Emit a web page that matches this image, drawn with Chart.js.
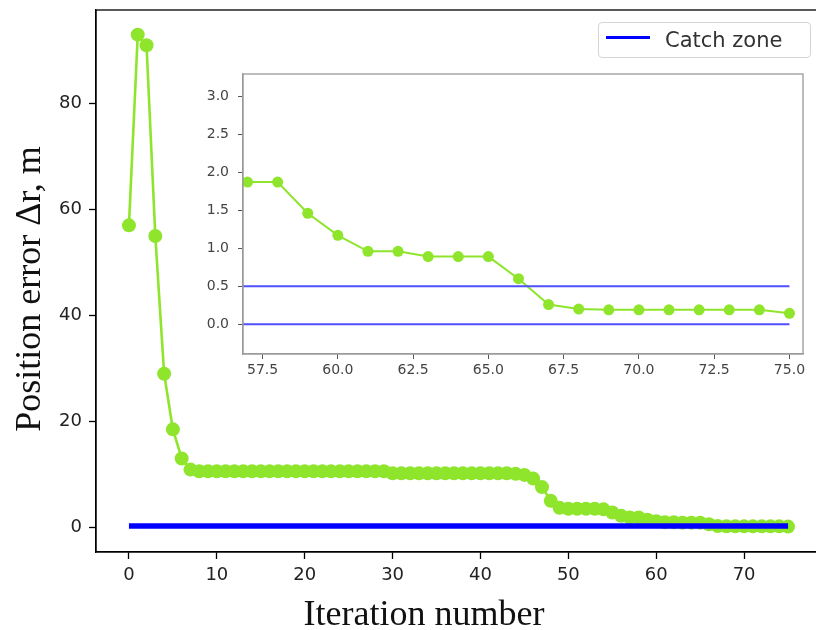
<!DOCTYPE html>
<html>
<head>
<meta charset="utf-8">
<script src="https://cdn.jsdelivr.net/npm/chart.js@4.4.1/dist/chart.umd.min.js"></script>
<style>
  html, body { margin: 0; padding: 0; background: #fff; }
  #wrap { position: relative; width: 816px; height: 630px; overflow: hidden; }
  #mainChart { position: absolute; left: 0; top: 0; }
  #insetChart { position: absolute; left: 180px; top: 64px; }
  #legend {
    position: absolute; left: 598px; top: 22px; width: 211px; height: 34px;
    border: 1px solid #d4d4d4; border-radius: 4px; background: rgba(255,255,255,0.85);
    font-family: 'DejaVu Sans', sans-serif;
  }
  #legend .swatch { position: absolute; left: 7px; top: 13px; width: 44px; height: 3px; background: #0000ff; }
  #legend .label { position: absolute; left: 66px; top: 5px; font-size: 21px; color: #333; line-height: 24px; }
</style>
</head>
<body>
<div id="wrap">
  <canvas id="mainChart" width="840" height="630"></canvas>
  <canvas id="insetChart" width="640" height="326"></canvas>
  <div id="legend"><div class="swatch"></div><div class="label">Catch zone</div></div>
</div>
<script>
// iteration numbers and position error (m)
const iterations = [0, 1, 2, 3, 4, 5, 6, 7, 8, 9, 10, 11, 12, 13, 14, 15, 16, 17, 18, 19,
  20, 21, 22, 23, 24, 25, 26, 27, 28, 29, 30, 31, 32, 33, 34, 35, 36, 37, 38, 39,
  40, 41, 42, 43, 44, 45, 46, 47, 48, 49, 50, 51, 52, 53, 54, 55, 56, 57, 58, 59,
  60, 61, 62, 63, 64, 65, 66, 67, 68, 69, 70, 71, 72, 73, 74, 75];
const positionError = [57, 93, 91, 55, 29, 18.5, 13, 10.9, 10.6, 10.6,
  10.6, 10.6, 10.6, 10.6, 10.6, 10.6, 10.6, 10.6, 10.6, 10.6,
  10.6, 10.6, 10.6, 10.6, 10.6, 10.6, 10.6, 10.6, 10.6, 10.6,
  10.2, 10.2, 10.2, 10.2, 10.2, 10.2, 10.2, 10.2, 10.2, 10.2,
  10.2, 10.2, 10.2, 10.2, 10.1, 9.9, 9.2, 7.6, 5.0, 3.7,
  3.5, 3.5, 3.5, 3.5, 3.4, 2.8, 2.2, 1.87, 1.87, 1.46,
  1.17, 0.96, 0.96, 0.89, 0.89, 0.89, 0.60, 0.26, 0.20, 0.19,
  0.19, 0.19, 0.19, 0.19, 0.19, 0.145];

// catch zone boundaries
const catchZoneLevels = [0, 0.5];
const catchZoneSpan = [0, 75];

// tick labels
const mainXTicks = [0, 10, 20, 30, 40, 50, 60, 70];
const mainYTicks = [0, 20, 40, 60, 80];
const insetFrom = 57;
const insetXTicks = [57.5, 60, 62.5, 65, 67.5, 70, 72.5, 75];
const insetYTicks = [0, 0.5, 1, 1.5, 2, 2.5, 3];

const green = '#8ee52c';

function toPoints(xs, ys) {
    return xs.map((x, i) => ({ x: x, y: ys[i] }));
}

function zoneLines(color, width) {
    return catchZoneLevels.map(level => ({
        label: 'Catch zone',
        data: catchZoneSpan.map(x => ({ x: x, y: level })),
        borderColor: color,
        borderWidth: width,
        pointRadius: 0
    }));
}

// box around the plot area
const frameBox = {
    id: 'frameBox',
    beforeDraw(chart, args, opts) {
        if (!opts.fill) return;
        const a = chart.chartArea;
        chart.ctx.save();
        chart.ctx.fillStyle = opts.fill;
        chart.ctx.fillRect(a.left, a.top, a.right - a.left, a.bottom - a.top);
        chart.ctx.restore();
    },
    afterDraw(chart, args, opts) {
        const a = chart.chartArea;
        const ctx = chart.ctx;
        ctx.save();
        ctx.strokeStyle = opts.color;
        ctx.lineWidth = opts.width;
        ctx.strokeRect(a.left, a.top, a.right - a.left, a.bottom - a.top);
        ctx.restore();
    }
};

// axis titles, placed as in the original figure
const axisTitles = {
    id: 'axisTitles',
    afterDraw(chart) {
        const ctx = chart.ctx;
        ctx.save();
        ctx.fillStyle = '#111';
        ctx.textAlign = 'center';
        ctx.textBaseline = 'alphabetic';
        ctx.font = '36px "Liberation Serif"';
        ctx.fillText('Iteration number', 424, 625);
        ctx.translate(40, 289);
        ctx.rotate(-Math.PI / 2);
        ctx.fillText('Position error \u0394r, m', 0, 0);
        ctx.restore();
    }
};

function fixedTicks(values) {
    return scale => { scale.ticks = values.map(v => ({ value: v })); };
}

new Chart(document.getElementById('mainChart'), {
    type: 'line',
    data: {
        datasets: [
            ...zoneLines('#0000ff', 3),
            {
                label: 'Position error',
                data: toPoints(iterations, positionError),
                borderColor: green,
                backgroundColor: green,
                borderWidth: 2.6,
                pointRadius: 7,
                pointBorderWidth: 0
            }
        ]
    },
    options: {
        responsive: false,
        animation: false,
        layout: { padding: { top: 10, right: 19, left: 0, bottom: 0 } },
        plugins: {
            legend: { display: false },
            tooltip: { enabled: false },
            frameBox: { color: '#000', width: 1.3 }
        },
        scales: {
            x: {
                type: 'linear',
                min: -3.75,
                max: 78.75,
                afterBuildTicks: fixedTicks(mainXTicks),
                afterFit: s => { s.height = 78; s.paddingLeft = 0; s.paddingRight = 0; },
                grid: { drawOnChartArea: false, tickLength: 7, tickColor: '#000', tickWidth: 1.3 },
                border: { color: '#000', width: 1.3 },
                ticks: { color: '#222', font: { family: 'DejaVu Sans', size: 18 }, padding: 6, maxRotation: 0, autoSkip: false }
            },
            y: {
                type: 'linear',
                min: -4.65,
                max: 97.65,
                afterBuildTicks: fixedTicks(mainYTicks),
                afterFit: s => { s.width = 96; s.paddingTop = 0; s.paddingBottom = 0; },
                grid: { drawOnChartArea: false, tickLength: 7, tickColor: '#000', tickWidth: 1.3 },
                border: { color: '#000', width: 1.3 },
                ticks: { color: '#222', font: { family: 'DejaVu Sans', size: 18 }, padding: 7 }
            }
        }
    },
    plugins: [frameBox, axisTitles]
});

new Chart(document.getElementById('insetChart'), {
    type: 'line',
    data: {
        datasets: [
            ...zoneLines('#4f4fff', 2),
            {
                label: 'Position error',
                data: toPoints(iterations.slice(insetFrom), positionError.slice(insetFrom)),
                borderColor: green,
                backgroundColor: green,
                borderWidth: 2,
                pointRadius: 5.5,
                pointBorderWidth: 0,
                clip: 8
            }
        ]
    },
    options: {
        responsive: false,
        animation: false,
        layout: { padding: { top: 10, right: 17, left: 0, bottom: 0 } },
        plugins: {
            legend: { display: false },
            tooltip: { enabled: false },
            frameBox: { color: '#9a9a9a', width: 1.3, fill: '#fff' }
        },
        scales: {
            x: {
                type: 'linear',
                min: 56.85,
                max: 75.45,
                afterBuildTicks: fixedTicks(insetXTicks),
                afterFit: s => { s.height = 36; s.paddingLeft = 0; s.paddingRight = 0; },
                grid: { drawOnChartArea: false, tickLength: 5, tickColor: '#555' },
                border: { color: '#9a9a9a', width: 1.3 },
                ticks: { color: '#444', font: { family: 'DejaVu Sans', size: 14 }, padding: 3, maxRotation: 0, autoSkip: false,
                         callback: v => v.toFixed(1) }
            },
            y: {
                type: 'linear',
                min: -0.39,
                max: 3.29,
                afterBuildTicks: fixedTicks(insetYTicks),
                afterFit: s => { s.width = 63; s.paddingTop = 0; s.paddingBottom = 0; },
                grid: { drawOnChartArea: false, tickLength: 5, tickColor: '#555' },
                border: { color: '#9a9a9a', width: 1.3 },
                ticks: { color: '#444', font: { family: 'DejaVu Sans', size: 14 }, padding: 9,
                         callback: v => v.toFixed(1) }
            }
        }
    },
    plugins: [frameBox]
});
</script>
</body>
</html>
